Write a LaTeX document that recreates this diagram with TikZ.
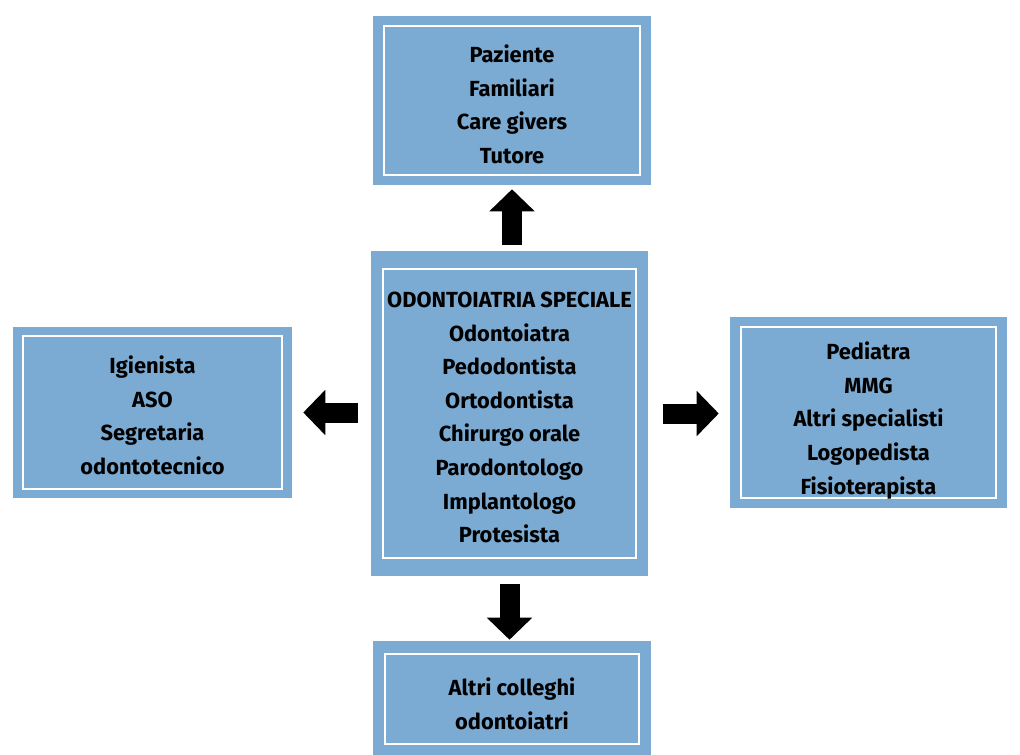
\documentclass[tikz,border=0pt]{standalone}
\usepackage{fontspec}
\setmainfont{Fira Sans}
\usepackage{tikz}
\usetikzlibrary{arrows.meta}

\definecolor{boxblue}{HTML}{7BABD3}
\newcommand{\boxfont}{\fontsize{16.4}{25.2}\selectfont\bfseries}

\tikzset{
	panel/.style n args={4}{fill=boxblue, minimum width=#1*0.75pt, minimum height=#2*0.75pt, inner sep=0pt,
		path picture={\draw[white, line width=1.5pt] ([shift={(#3,#4)}]path picture bounding box.north west) rectangle ([shift={(-#3,-#4)}]path picture bounding box.south east);}},
	testo/.style={align=center, font=\boxfont, inner sep=0pt},
	freccia/.style={line width=15pt, -{Triangle[length=16.5pt, width=33pt]}},
}

\begin{document}
\begin{tikzpicture}[x=0.75pt, y=-0.75pt]
		\useasboundingbox (0,0) rectangle (1020,754);

		% riquadri
		\node[panel={277}{325}{12}{18}] (ctr) at (509.5,413.5) {};
		\node[panel={278}{169}{11}{10}] (top) at (512,100.5) {};
		\node[panel={279}{171}{10}{9}] (left) at (152.5,412.5) {};
		\node[panel={277}{191}{11}{10}] (right) at (868.5,412.5) {};
		\node[panel={278}{116}{12}{13}] (bot) at (512,699) {};

		% testi
		\node[testo] (ctrtxt) at ([shift={(0,4)}]ctr.center) {ODONTOIATRIA SPECIALE\\Odontoiatra\\Pedodontista\\Ortodontista\\Chirurgo orale\\Parodontologo\\Implantologo\\Protesista};
		\node[testo] (toptxt) at ([shift={(0,4)}]top.center) {Paziente\\Familiari\\Care givers\\Tutore};
		\node[testo] (lefttxt) at ([shift={(0,3)}]left.center) {Igienista\\ASO\\Segretaria\\odontotecnico};
		\node[testo] (righttxt) at ([shift={(0,8)}]right.center) {Pediatra\\MMG\\Altri specialisti\\Logopedista\\Fisioterapista};
		\node[testo] (bottxt) at ([shift={(0,5)}]bot.center) {Altri colleghi\\odontoiatri};

		\draw[freccia, shorten <=4.5pt, shorten >=3pt] (ctr.north -| top.south) -- (top.south); % verso l'alto
		\draw[freccia, shorten <=6pt, shorten >=0.75pt] (ctr.south) -- (ctr.south |- bot.north); % verso il basso
		\draw[freccia, shorten <=9.75pt, shorten >=8.25pt] (ctr.west |- left.east) -- (left.east); % a sinistra
		\draw[freccia, shorten <=11.25pt, shorten >=8.25pt] (ctr.east) -- (ctr.east -| right.west); % a destra
\end{tikzpicture}
\end{document}
